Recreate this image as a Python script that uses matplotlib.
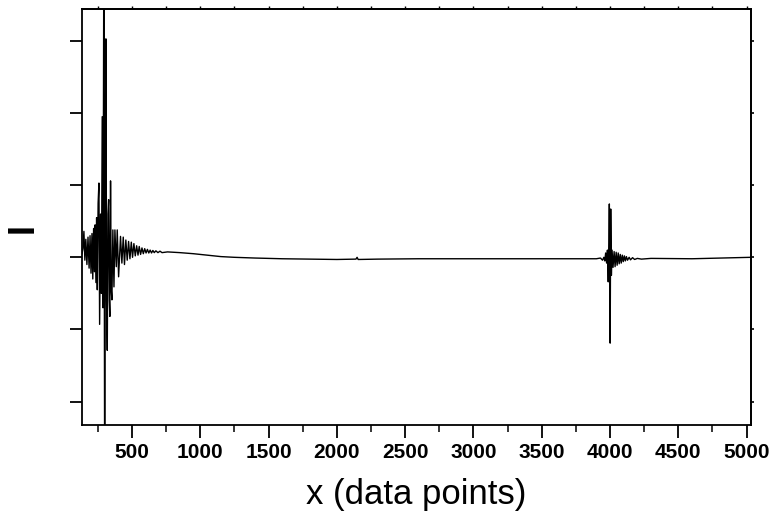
import matplotlib
matplotlib.use("Agg")
import matplotlib.pyplot as plt
from matplotlib.ticker import MultipleLocator, NullFormatter

# ---- data ----
burst1_x = [134, 141, 148, 155, 162, 170, 178, 186, 193, 200, 207, 213, 219, 225,
            230, 236, 241, 246, 252, 258, 263, 270, 276, 282, 288, 294, 300, 305,
            309, 314, 319, 324, 329, 334, 338, 343, 348, 353, 360, 368, 375, 385,
            392, 402, 416, 426, 436, 445, 455, 465, 475, 485, 495, 504, 514, 524,
            534, 544, 553, 563, 573, 583, 593, 603, 613, 623, 633, 643, 653, 663,
            675, 690, 705, 720]
burst1_y = [0.05, 0.12, 0.36, -0.04, 0.25, -0.10, 0.28, -0.15, 0.30, -0.22, 0.33, -0.30,
            0.40, -0.20, 0.45, -0.35, 0.55, -0.45, 0.75, 1.03, -0.93, 0.60, -0.50, 1.95,
            -0.70, 4.50, -3.50, 1.20, 3.03, -0.60, -1.29, 0.60, 0.80, -0.60, -0.82, 1.06,
            -0.45, -0.59, 0.38, -0.41, 0.38, -0.13, 0.38, -0.27, 0.29, -0.08, 0.28, -0.10,
            0.24, -0.04, 0.22, -0.02, 0.21, 0.00, 0.19, 0.02, 0.16, 0.03, 0.15, 0.04,
            0.13, 0.05, 0.12, 0.06, 0.11, 0.06, 0.10, 0.06, 0.095, 0.065, 0.09, 0.065,
            0.085, 0.065]

baseline_x = [760, 850, 950, 1050, 1150, 1250, 1400, 1600, 1800, 2000, 2140, 2148,
              2156, 2300, 2600, 2900, 3200, 3500, 3800, 3900, 3930, 3945, 3955, 3962,
              3968, 3975, 3981]
baseline_y = [0.075, 0.065, 0.05, 0.03, 0.01, 0.0, -0.01, -0.02, -0.025, -0.03, -0.025,
              0.0, -0.03, -0.025, -0.02, -0.02, -0.02, -0.02, -0.02, -0.02, -0.01,
              -0.04, 0.0, -0.05, 0.06, -0.08, 0.10]

burst2_x = [3987, 3992, 3995, 4001, 4005, 4010, 4015, 4022, 4030, 4037, 4045, 4052,
            4060, 4067, 4075, 4082, 4090, 4097, 4105, 4112, 4120, 4128, 4140, 4150,
            4165, 4180, 4200, 4230, 4300, 4600, 4800, 5030]
burst2_y = [-0.34, 0.20, 0.74, -1.19, 0.67, -0.25, 0.10, -0.14, 0.08, -0.13, 0.07, -0.11,
            0.06, -0.09, 0.04, -0.08, 0.03, -0.06, 0.02, -0.05, 0.01, -0.04, 0.0, -0.035,
            -0.005, -0.03, -0.015, -0.025, -0.015, -0.02, -0.01, 0.0]

x_major = [500, 1000, 1500, 2000, 2500, 3000, 3500, 4000, 4500, 5000]
x_labels = [str(v) for v in x_major]
y_ticks = [-2, -1, 0, 1, 2, 3]

xs = burst1_x + baseline_x + burst2_x
ys = burst1_y + baseline_y + burst2_y

plt.rcParams['font.family'] = ['Liberation Sans', 'DejaVu Sans']

fig = plt.figure(figsize=(7.76, 5.16), dpi=100)
ax = fig.add_axes([82 / 776, 1 - 425.3 / 516, (750.7 - 82) / 776, (425.3 - 9.3) / 516])

ax.plot(xs, ys, color='black', lw=1.0)

ax.set_xlim(134, 5030)
ax.set_ylim(-2.33, 3.44)

ax.set_xticks(x_major)
ax.set_xticklabels(x_labels, fontsize=15, fontweight='bold')
ax.xaxis.set_minor_locator(MultipleLocator(250))
ax.set_yticks(y_ticks)
ax.yaxis.set_major_formatter(NullFormatter())

for s in ax.spines.values():
    s.set_linewidth(1.3)

# bottom / left ticks: outward and visible; top / right: tiny stubs
ax.tick_params(axis='x', which='major', direction='out', length=9, width=1.3, pad=4)
ax.tick_params(axis='x', which='minor', direction='out', length=5, width=1.1)
ax.tick_params(axis='y', which='major', direction='out', length=9, width=1.3)

ax_top = ax.secondary_xaxis('top')
ax_top.set_xticks(x_major)
ax_top.xaxis.set_minor_locator(MultipleLocator(250))
ax_top.tick_params(which='both', direction='out', length=2, width=1.0, labeltop=False)
ax_top.spines['top'].set_linewidth(1.3)

ax_right = ax.secondary_yaxis('right')
ax_right.set_yticks(y_ticks)
ax_right.tick_params(direction='out', length=2.5, width=1.2, labelright=False)
ax_right.spines['right'].set_linewidth(1.3)

ax.set_xlabel('x (data points)', fontsize=25, labelpad=11)
ax.text(23.4 / 776, 1 - 227.7 / 516, 'I', transform=fig.transFigure, rotation=90,
        fontsize=26, fontweight='bold', ha='center', va='center')

fig.savefig('out.png', dpi=100)
